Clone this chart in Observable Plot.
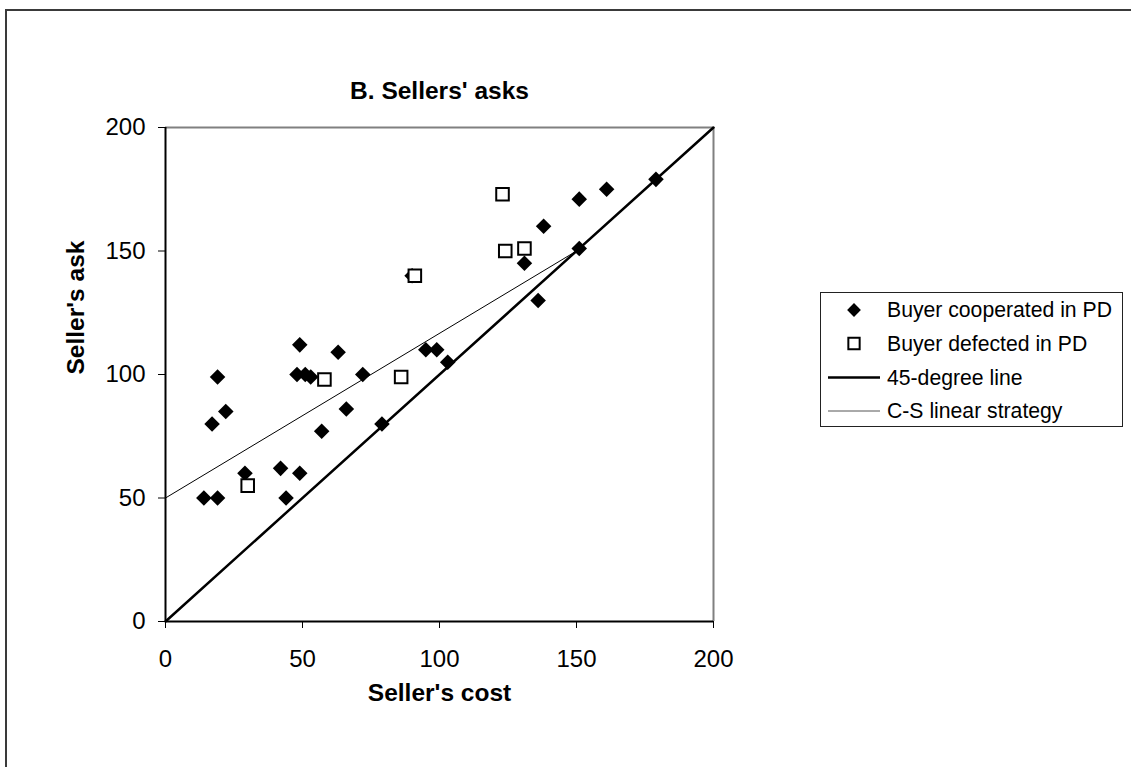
<!DOCTYPE html>
<html>
<head>
<meta charset="utf-8">
<script src="https://cdn.jsdelivr.net/npm/d3@7"></script>
<script src="https://cdn.jsdelivr.net/npm/@observablehq/plot@0.6"></script>
<style>
  html, body { margin: 0; padding: 0; background: #fff; overflow: hidden; }
  #page { position: relative; width: 1131px; height: 767px; overflow: hidden; background: #fff;
          font-family: "Liberation Sans", Arial, sans-serif; }
  #outer { position: absolute; left: 5px; top: 9px; width: 1300px; height: 900px; border: 2px solid #3a3a3a; }
  #chart { position: absolute; left: 0; top: 0; }
  #legend { position: absolute; left: 0; top: 0; }
</style>
</head>
<body>
<div id="page">
  <div id="outer"></div>
  <div id="chart"></div>
  <div id="legend"></div>
</div>
<script>
// Data
const titleText = "B. Sellers' asks";
const xLabel = "Seller's cost";
const yLabel = "Seller's ask";
const ticks = [0, 50, 100, 150, 200];

const coopCost = [14, 19, 17, 19, 22, 29, 42, 44, 48, 49, 49, 51, 53, 57, 63, 66, 72, 79, 90, 95, 99, 103, 131, 136, 138, 151, 151, 161, 179];
const coopAsk  = [50, 50, 80, 99, 85, 60, 62, 50, 100, 112, 60, 100, 99, 77, 109, 86, 100, 80, 140, 110, 110, 105, 145, 130, 160, 151, 171, 175, 179];

const defCost = [30, 58, 86, 91, 123, 124, 131];
const defAsk  = [55, 98, 99, 140, 173, 150, 151];

const line45X = [0, 200];
const line45Y = [0, 200];
const csX = [0, 150];
const csY = [50, 150];

const legendLabels = ["Buyer cooperated in PD", "Buyer defected in PD", "45-degree line", "C-S linear strategy"];

const coop = coopCost.map((c, i) => ({cost: c, ask: coopAsk[i]}));
const def = defCost.map((c, i) => ({cost: c, ask: defAsk[i]}));
const l45 = line45X.map((x, i) => ({x, y: line45Y[i]}));
const lcs = csX.map((x, i) => ({x, y: csY[i]}));

const FONT = '"Liberation Sans", Arial, sans-serif';

const plot = Plot.plot({
  width: 1131,
  height: 767,
  marginLeft: 165,
  marginRight: 418,
  marginTop: 127,
  marginBottom: 146,
  style: {fontFamily: FONT, fontSize: "24px", color: "#000", background: "transparent", overflow: "visible"},
  x: {domain: [0, 200], label: null},
  y: {domain: [0, 200], label: null},
  marks: [
    Plot.ruleY([200], {stroke: "#808080", strokeWidth: 2}),
    Plot.ruleX([200], {stroke: "#808080", strokeWidth: 2}),
    Plot.axisY({ticks, tickSize: 7, tickPadding: 13, tickFormat: d => String(d), fontSize: 24, label: null}),
    Plot.axisX({ticks, tickSize: 7, tickPadding: 21, tickFormat: d => String(d), fontSize: 24, label: null}),
    Plot.line(lcs, {x: "x", y: "y", stroke: "#000", strokeWidth: 1}),
    Plot.line(l45, {x: "x", y: "y", stroke: "#000", strokeWidth: 2.5}),
    Plot.dot(coop, {x: "cost", y: "ask", symbol: "diamond2", r: 7, fill: "#000", stroke: "none"}),
    Plot.dot(def, {x: "cost", y: "ask", symbol: "square2", r: 8, fill: "#fff", stroke: "#000", strokeWidth: 2}),
    Plot.ruleY([0], {stroke: "#000", strokeWidth: 2}),
    Plot.ruleX([0], {stroke: "#000", strokeWidth: 2}),
    Plot.text([titleText], {frameAnchor: "top", dy: -46, fontWeight: "bold", fontSize: 24.5}),
    Plot.text([xLabel], {frameAnchor: "bottom", dy: 79, fontWeight: "bold", fontSize: 24.5}),
    Plot.text([yLabel], {frameAnchor: "left", dx: -89, rotate: -90, fontWeight: "bold", fontSize: 24.5})
  ]
});
document.getElementById("chart").appendChild(plot);

// Legend
const lg = d3.select("#legend").append("svg")
  .attr("width", 1131).attr("height", 767)
  .style("font-family", FONT);
lg.append("rect").attr("x", 820.5).attr("y", 292.5).attr("width", 302).attr("height", 134)
  .attr("fill", "#fff").attr("stroke", "#222").attr("stroke-width", 1);
const rowsY = [310, 343.5, 377.5, 411];
const symX = 854;
const diamond = d3.symbol(d3.symbolDiamond2, Math.PI * 6.2 * 6.2);
const square = d3.symbol(d3.symbolSquare2, Math.PI * 7.2 * 7.2);
lg.append("path").attr("d", diamond()).attr("transform", `translate(${symX},${rowsY[0]})`).attr("fill", "#000");
lg.append("path").attr("d", square()).attr("transform", `translate(${symX},${rowsY[1]})`).attr("fill", "#fff").attr("stroke", "#000").attr("stroke-width", 2);
lg.append("line").attr("x1", 828).attr("x2", 880).attr("y1", rowsY[2]).attr("y2", rowsY[2]).attr("stroke", "#000").attr("stroke-width", 2.5);
lg.append("line").attr("x1", 828).attr("x2", 880).attr("y1", rowsY[3]).attr("y2", rowsY[3]).attr("stroke", "#555").attr("stroke-width", 1);
legendLabels.forEach((t, i) => {
  lg.append("text").attr("x", 887).attr("y", rowsY[i]).attr("dy", "0.35em")
    .attr("font-size", 21.2).attr("fill", "#000").text(t);
});
</script>
</body>
</html>
